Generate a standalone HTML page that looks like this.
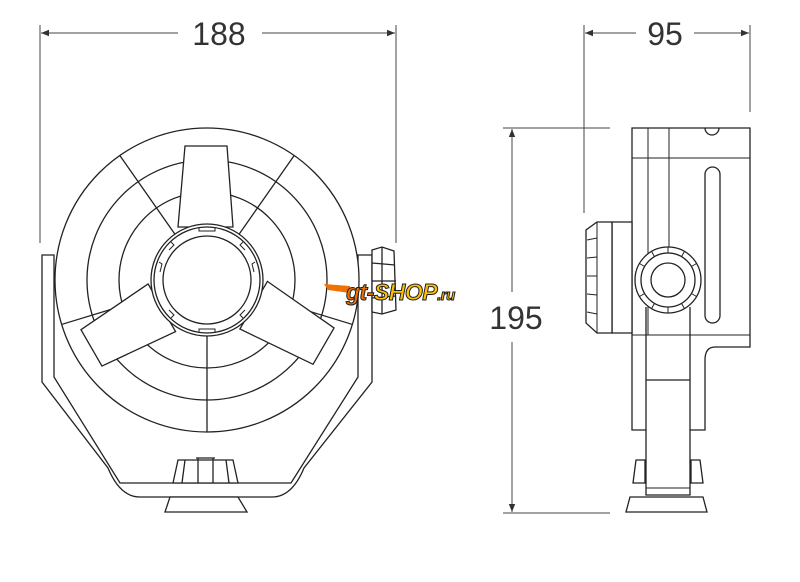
<!DOCTYPE html>
<html><head><meta charset="utf-8"><style>
html,body{margin:0;padding:0;background:#fff;}
svg{display:block;}
</style></head><body>
<svg width="800" height="582" viewBox="0 0 800 582" xmlns="http://www.w3.org/2000/svg">
<defs>
<marker id="a" viewBox="0 0 10 10" refX="10" refY="5" markerWidth="14" markerHeight="8" markerUnits="userSpaceOnUse" orient="auto-start-reverse"><path d="M0,1 L10,5 L0,9 z" fill="#333"/></marker>
</defs>
<g stroke="#444" stroke-width="1" fill="none">
<line x1="40" y1="25" x2="40" y2="243"/><line x1="396" y1="25" x2="396" y2="243"/>
<line x1="41" y1="33" x2="178" y2="33" marker-start="url(#a)"/>
<line x1="262" y1="33" x2="395" y2="33" marker-end="url(#a)"/>
<line x1="584" y1="25" x2="584" y2="213"/><line x1="750" y1="25" x2="750" y2="112"/>
<line x1="585" y1="33" x2="636" y2="33" marker-start="url(#a)"/>
<line x1="694" y1="33" x2="749" y2="33" marker-end="url(#a)"/>
<line x1="503" y1="128" x2="610" y2="128"/><line x1="503" y1="513" x2="610" y2="513"/>
<line x1="512" y1="129" x2="512" y2="292" marker-start="url(#a)"/>
<line x1="512" y1="342" x2="512" y2="512" marker-end="url(#a)"/>
</g>
<g font-family="Liberation Sans, sans-serif" font-size="32" fill="#333" text-anchor="middle">
<text x="219" y="45">188</text>
<text x="665" y="45">95</text>
<text x="516" y="329">195</text>
</g>

<g stroke="#222" stroke-width="1.3" fill="none">
<path d="M42,255 L42,382 L108,468 Q120,497 140,497 L272,497 Q292,497 304,468 L372,382 L372,255 L358,255 L358,377 L291,483 L120,483 L54,377 L54,255 Z" fill="#fff"/>
<path d="M372,250 L382,247 L394,251 L396,310 L382,314 L372,312 Z" fill="#fff"/>
<line x1="382" y1="247" x2="382" y2="314"/>
<line x1="372" y1="263" x2="395" y2="265"/><line x1="372" y1="281" x2="396" y2="281"/><line x1="372" y1="298" x2="396" y2="296"/>
<circle cx="207" cy="280" r="152" fill="#fff"/>
<circle cx="207" cy="280" r="120"/>
<circle cx="207" cy="280" r="88"/>
<g transform="translate(207,280)">
<line x1="0" y1="0" x2="0" y2="152" transform="rotate(0)"/>
<line x1="0" y1="0" x2="0" y2="152" transform="rotate(145)"/>
<line x1="0" y1="0" x2="0" y2="152" transform="rotate(-145)"/>
<line x1="0" y1="0" x2="0" y2="152" transform="rotate(73)"/>
<line x1="0" y1="0" x2="0" y2="152" transform="rotate(-73)"/>
<g fill="#fff">
<path d="M-22,-134 L20,-134 L26,-53 L-29,-53 Z"/>
<path d="M-22,-134 L20,-134 L26,-53 L-29,-53 Z" transform="rotate(120)"/>
<path d="M-22,-134 L20,-134 L26,-53 L-29,-53 Z" transform="rotate(-120)"/>
</g>
<circle r="56" fill="#fff"/>
<circle r="53"/>
<circle r="44"/>
<path d="M-8,-53 L-8,-49 L8,-49 L8,-53 M36,-38 L33,-35 L38,-30 M48,-18 L45,-16 L47,-8 M-36,-38 L-33,-35 L-38,-30 M-48,-18 L-45,-16 L-47,-8 M-8,53 L-8,49 L8,49 L8,53 M36,38 L33,35 L38,30 M-36,38 L-33,35 L-38,30" stroke-width="1"/>
</g>
<path d="M178,460 L233,460 L238,483 L173,483 Z" fill="#fff"/>
<line x1="185" y1="460" x2="182" y2="483"/><line x1="198" y1="458" x2="198" y2="483"/><line x1="213" y1="458" x2="213" y2="483"/><line x1="226" y1="460" x2="229" y2="483"/>
<line x1="196" y1="458" x2="215" y2="458"/>
<path d="M170,497 L238,497 L247,512 L165,512 Z" fill="#fff"/>
</g>

<g stroke="#222" stroke-width="1.3" fill="none">
<path d="M632,128 L750,128 L750,347 L715,347 Q705,347 705,360 L705,430 L690,430 L690,495 L646,495 L646,430 L632,430 Z" fill="#fff"/>
<line x1="632" y1="158" x2="750" y2="158" stroke-width="1"/>
<line x1="632" y1="335" x2="750" y2="335" stroke-width="1"/>
<line x1="648" y1="128" x2="648" y2="335" stroke-width="1"/>
<line x1="669" y1="128" x2="669" y2="247" stroke-width="1"/>
<path d="M705,128 A7,7 0 0 0 719,128"/>
<rect x="705" y="167" width="15" height="156" rx="7.5"/>
<path d="M612,222 L632,222 L632,333 L612,333 Z" fill="#fff"/>
<path d="M612,222 L597,222 L586,230 L586,323 L597,333 L612,333 Z" fill="#fff"/>
<line x1="597" y1="222" x2="597" y2="333" stroke-width="1"/>
<g stroke-width="1"><line x1="587" y1="240" x2="597" y2="238"/><line x1="587" y1="258" x2="597" y2="257"/><line x1="587" y1="276" x2="597" y2="276"/><line x1="587" y1="294" x2="597" y2="295"/><line x1="587" y1="312" x2="597" y2="314"/></g>
<circle cx="668" cy="280" r="33" fill="#fff"/>
<circle cx="668" cy="280" r="27"/>
<circle cx="668" cy="280" r="17"/>
<g transform="translate(668,280)" stroke-width="1">
<line x1="0" y1="-27" x2="0" y2="-33"/><line x1="0" y1="27" x2="0" y2="33"/>
<line x1="0" y1="-27" x2="0" y2="-33" transform="rotate(30)"/><line x1="0" y1="-27" x2="0" y2="-33" transform="rotate(60)"/><line x1="0" y1="-27" x2="0" y2="-33" transform="rotate(120)"/><line x1="0" y1="-27" x2="0" y2="-33" transform="rotate(150)"/>
<line x1="0" y1="-27" x2="0" y2="-33" transform="rotate(-30)"/><line x1="0" y1="-27" x2="0" y2="-33" transform="rotate(-60)"/><line x1="0" y1="-27" x2="0" y2="-33" transform="rotate(-120)"/><line x1="0" y1="-27" x2="0" y2="-33" transform="rotate(-150)"/>
</g>
<line x1="646" y1="307" x2="646" y2="430"/><line x1="690" y1="307" x2="690" y2="430"/>
<line x1="646" y1="380" x2="690" y2="380"/>
<line x1="646" y1="488" x2="690" y2="488" stroke-width="1"/>
<path d="M636,460 L645,460 L645,483 L633,483 Z"/>
<path d="M691,460 L700,460 L703,483 L691,483 Z"/>
<path d="M630,497 L703,497 L707,512 L626,512 Z" fill="#fff"/>
</g>

<g font-family="Liberation Sans, sans-serif" font-weight="bold" font-style="italic" font-size="23" stroke="#222" stroke-width="1" letter-spacing="-0.5">
<path d="M324,284 L350,286 L350,293 L328,290 Z" fill="#f07000" stroke="none"/>
<text x="346" y="300" fill="#f07000">gt-<tspan fill="#ffc000">SHOP</tspan><tspan fill="#ffc000" font-size="15">.ru</tspan></text>
</g>
</svg>
</body></html>
